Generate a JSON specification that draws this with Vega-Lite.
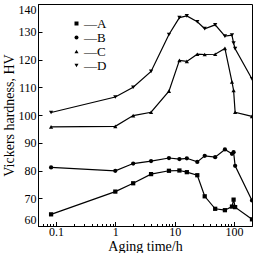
{
  "$schema": "https://vega.github.io/schema/vega-lite/v6.json",
  "width": 214,
  "height": 222,
  "autosize": {"type": "none"},
  "padding": {"left": 38, "top": 4, "right": 1, "bottom": 27},
  "background": "white",
  "config": {
    "font": "Liberation Serif",
    "view": {"stroke": "black", "strokeWidth": 1},
    "axis": {"domainColor": "black", "tickColor": "black", "labelColor": "black", "titleColor": "black", "labelFont": "Liberation Serif", "titleFont": "Liberation Serif", "labelFontSize": 12, "titleFontSize": 14, "titleFontWeight": "normal", "grid": false}
  },
  "data": {"values": [
    {"s": "A", "t": 0.083, "hv": 64.2},
    {"s": "A", "t": 1, "hv": 72.4},
    {"s": "A", "t": 2, "hv": 75.4},
    {"s": "A", "t": 4, "hv": 78.7},
    {"s": "A", "t": 8, "hv": 79.9},
    {"s": "A", "t": 12, "hv": 80.0},
    {"s": "A", "t": 16, "hv": 79.4},
    {"s": "A", "t": 24, "hv": 78.3},
    {"s": "A", "t": 32, "hv": 70.7},
    {"s": "A", "t": 48, "hv": 66.2},
    {"s": "A", "t": 70, "hv": 65.7},
    {"s": "A", "t": 92, "hv": 67.0},
    {"s": "A", "t": 98, "hv": 69.5},
    {"s": "A", "t": 104, "hv": 66.8},
    {"s": "A", "t": 200, "hv": 62.4},
    {"s": "B", "t": 0.083, "hv": 81.1},
    {"s": "B", "t": 1, "hv": 79.9},
    {"s": "B", "t": 2, "hv": 82.5},
    {"s": "B", "t": 4, "hv": 83.4},
    {"s": "B", "t": 8, "hv": 84.5},
    {"s": "B", "t": 12, "hv": 84.1},
    {"s": "B", "t": 16, "hv": 84.4},
    {"s": "B", "t": 24, "hv": 83.1},
    {"s": "B", "t": 32, "hv": 85.3},
    {"s": "B", "t": 48, "hv": 84.8},
    {"s": "B", "t": 70, "hv": 87.6},
    {"s": "B", "t": 92, "hv": 86.0},
    {"s": "B", "t": 98, "hv": 86.6},
    {"s": "B", "t": 104, "hv": 81.7},
    {"s": "B", "t": 200, "hv": 69.2},
    {"s": "C", "t": 0.083, "hv": 95.7},
    {"s": "C", "t": 1, "hv": 95.9},
    {"s": "C", "t": 2, "hv": 99.8},
    {"s": "C", "t": 4, "hv": 101.0},
    {"s": "C", "t": 8, "hv": 108.6},
    {"s": "C", "t": 12, "hv": 119.7},
    {"s": "C", "t": 16, "hv": 119.3},
    {"s": "C", "t": 24, "hv": 121.9},
    {"s": "C", "t": 32, "hv": 121.8},
    {"s": "C", "t": 48, "hv": 121.9},
    {"s": "C", "t": 70, "hv": 124.0},
    {"s": "C", "t": 92, "hv": 111.9},
    {"s": "C", "t": 98, "hv": 108.9},
    {"s": "C", "t": 104, "hv": 101.0},
    {"s": "C", "t": 200, "hv": 99.5},
    {"s": "D", "t": 0.083, "hv": 100.9},
    {"s": "D", "t": 1, "hv": 106.5},
    {"s": "D", "t": 2, "hv": 110.0},
    {"s": "D", "t": 4, "hv": 115.7},
    {"s": "D", "t": 8, "hv": 129.0},
    {"s": "D", "t": 12, "hv": 135.1},
    {"s": "D", "t": 16, "hv": 135.7},
    {"s": "D", "t": 24, "hv": 133.6},
    {"s": "D", "t": 32, "hv": 131.1},
    {"s": "D", "t": 48, "hv": 132.5},
    {"s": "D", "t": 70, "hv": 128.4},
    {"s": "D", "t": 92, "hv": 128.8},
    {"s": "D", "t": 98, "hv": 125.9},
    {"s": "D", "t": 104, "hv": 123.9},
    {"s": "D", "t": 200, "hv": 113.0}
  ]},
  "encoding": {
    "y": {"field": "hv", "type": "quantitative", "scale": {"domain": [60, 140], "nice": false, "zero": false},
      "axis": {"values": [60, 70, 80, 90, 100, 110, 120, 130, 140], "labelOverlap": false, "labelFlush": true, "tickSize": -4, "labelPadding": 6, "title": "Vickers hardness, HV", "titlePadding": 2}}
  },
  "resolve": {"axis": {"x": "independent"}},
  "layer": [
    {
      "mark": {"type": "line", "color": "black", "strokeWidth": 1.2},
      "encoding": {
        "detail": {"field": "s"},
        "x": {"field": "t", "type": "quantitative", "scale": {"type": "log", "domain": [0.05, 200], "nice": false},
          "axis": {"orient": "bottom", "values": [0.06, 0.07, 0.08, 0.09, 0.2, 0.3, 0.4, 0.5, 0.6, 0.7, 0.8, 0.9, 2, 3, 4, 5, 6, 7, 8, 9, 20, 30, 40, 50, 60, 70, 80, 90], "labels": false, "tickSize": -2.5, "domain": false, "title": null}}
      }
    },
    {
      "mark": {"type": "point", "filled": true, "color": "black", "size": 18, "opacity": 1},
      "encoding": {
        "x": {"field": "t", "type": "quantitative", "scale": {"type": "log", "domain": [0.05, 200], "nice": false},
          "axis": {"orient": "bottom", "values": [0.1, 1, 10, 100], "format": "~g", "labelOverlap": false, "tickSize": -4.5, "labelPadding": 5, "title": "Aging time/h", "titlePadding": 2}},
        "shape": {"field": "s", "type": "nominal", "scale": {"domain": ["A", "B", "C", "D"], "range": ["square", "circle", "triangle-up", "triangle-down"]},
          "legend": {"title": null, "orient": "none", "legendX": 32, "legendY": 13, "padding": 0, "symbolSize": 16, "symbolFillColor": "black", "symbolStrokeColor": "black", "labelFont": "Liberation Serif", "labelFontSize": 13, "labelExpr": "'—' + datum.label", "labelOffset": 1, "rowPadding": -4, "symbolOffset": 0}}
      }
    }
  ]
}
